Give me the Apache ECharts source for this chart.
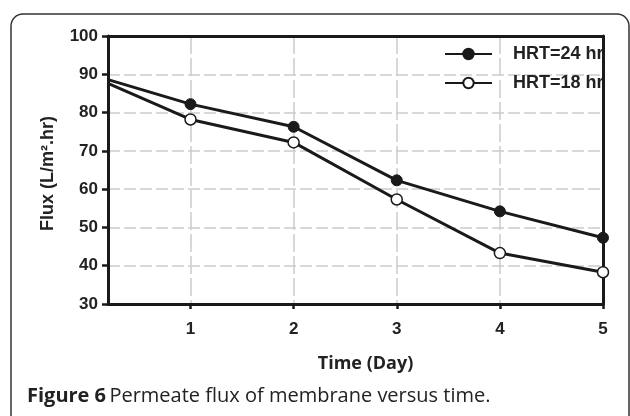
<!DOCTYPE html>
<html><head><meta charset="utf-8">
<script src="https://cdn.jsdelivr.net/npm/echarts@6/dist/echarts.min.js"></script>
<style>html,body{margin:0;padding:0;background:#fff}#c{width:630px;height:416px}</style>
</head><body><div id="c"></div>
<script>
const xStart = 0.2;
const days = [1, 2, 3, 4, 5];
const hrt24 = [88.6, 82.2, 76.3, 62.3, 54.2, 47.3];
const hrt18 = [87.6, 78.2, 72.2, 57.3, 43.3, 38.3];
const yTicks = [30, 40, 50, 60, 70, 80, 90, 100];
const seriesNames = ['HRT=24 hr', 'HRT=18 hr'];

const xs = [xStart].concat(days);
function pts(vals) {
  return vals.map((v, i) => i === 0 ? { value: [xs[i], v], symbol: 'none' } : [xs[i], v]);
}
const font = 'Liberation Sans, Arial, sans-serif';
const ink = '#1a1a1a';
const txt = '#222222';
const chart = echarts.init(document.getElementById('c'));
const frameAxis = {
  show: true, z: 10,
  axisLine: { show: true, onZero: false, lineStyle: { color: ink, width: 3 } },
  axisTick: { show: false }, axisLabel: { show: false }, splitLine: { show: false }
};
chart.setOption({
  animation: false,
  backgroundColor: '#fff',
  grid: { left: 108, right: 27, top: 36, bottom: 112 },
  legend: {
    left: 439, top: 40, orient: 'vertical', itemWidth: 47, itemHeight: 13, itemGap: 11,
    textStyle: { fontFamily: font, fontWeight: 'bold', fontSize: 18, lineHeight: 18, color: txt, padding: [0, 0, 0, 16] },
    data: seriesNames
  },
  xAxis: [{
    type: 'value', min: xStart, max: 5, position: 'bottom',
    name: 'Time (Day)', nameLocation: 'middle', nameGap: 51,
    nameTextStyle: { fontFamily: 'Open Sans', fontWeight: 'bold', fontSize: 18, color: txt, padding: [0, 0, 0, 20] },
    axisLine: { show: true, onZero: false, lineStyle: { color: ink, width: 3 } },
    axisTick: { show: true, customValues: days, length: 5, lineStyle: { color: ink, width: 2.5 } },
    axisLabel: { customValues: days, margin: 17, fontFamily: font, fontWeight: 'bold', fontSize: 17, color: txt },
    splitLine: { show: true, showMaxLine: false, lineStyle: { color: '#cccccc', width: 1.5, type: [18, 4] } }
  }, Object.assign({ type: 'value', min: xStart, max: 5, position: 'top' }, frameAxis)],
  yAxis: [{
    type: 'value', min: 30, max: 100, interval: 10, position: 'left',
    name: 'Flux (L/m².hr)', nameLocation: 'middle', nameGap: 51,
    nameTextStyle: { fontFamily: font, fontWeight: 'bold', fontSize: 18, color: txt, padding: [0, 7, 0, 0] },
    axisLine: { show: true, onZero: false, lineStyle: { color: ink, width: 3 } },
    axisTick: { show: true, length: 6, lineStyle: { color: ink, width: 2.5 } },
    axisLabel: { margin: 10, fontFamily: font, fontWeight: 'bold', fontSize: 17, color: txt },
    splitLine: { show: true, showMaxLine: false, lineStyle: { color: '#cccccc', width: 1.5, type: [12, 4] } }
  }, Object.assign({ type: 'value', min: 30, max: 100, interval: 10, position: 'right' }, frameAxis)],
  graphic: [
    { type: 'rect', shape: { x: 11, y: 14, width: 618, height: 460, r: 12 }, style: { fill: 'none', stroke: '#333', lineWidth: 1.5 }, z: -1 },
    { type: 'text', left: 27, top: 386, style: { rich: {
        b: { fontFamily: 'Open Sans', fontWeight: 'bold', fontSize: 20, fill: '#222' },
        r: { fontFamily: 'Open Sans', fontSize: 20, fill: '#222' } },
      text: '{b|Figure 6} {r|Permeate flux of membrane versus time.}' } }
  ],
  series: [
    { name: seriesNames[0], type: 'line', data: pts(hrt24), symbol: 'circle', symbolSize: 11,
      lineStyle: { color: ink, width: 3 }, itemStyle: { color: ink, borderColor: ink, borderWidth: 1 }, z: 12 },
    { name: seriesNames[1], type: 'line', data: pts(hrt18), symbol: 'circle', symbolSize: 11,
      lineStyle: { color: ink, width: 3 }, itemStyle: { color: '#fff', borderColor: ink, borderWidth: 1.5 }, z: 12 }
  ]
});
</script></body></html>
